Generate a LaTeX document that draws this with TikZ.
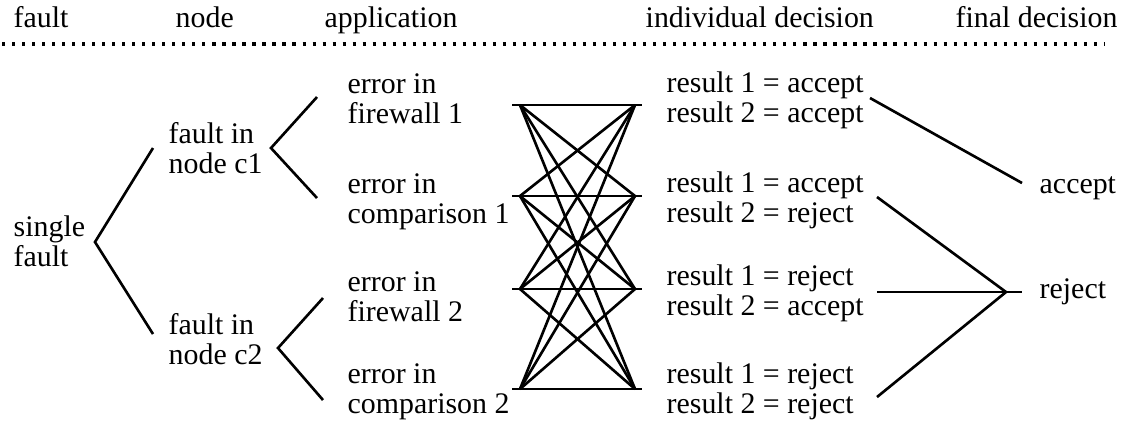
\documentclass[tikz,border=0pt]{standalone}
\usepackage{fontspec}
\setmainfont{Liberation Serif}
\usepackage{tikz}
\usetikzlibrary{positioning,calc}

\begin{document}
\begin{tikzpicture}[
  every node/.style={font=\fontsize{8.5}{8.54}\selectfont,align=left,inner sep=0pt,anchor=base west},
  link/.style={line width=0.75pt},
  rule/.style={line width=0.9pt,dash pattern=on 0.9pt off 1.95pt}
]
\useasboundingbox (0,0) rectangle (11.24,-4.23);

\node (hfault) at (0.13,-0.27) {fault};
\node (hnode) at (1.75,-0.27) {node};
\node (happ) at (3.24,-0.27) {application};
\node (hind) at (6.45,-0.27) {individual decision};
\node (hfin) at (9.55,-0.27) {final decision};
\coordinate (rl) at (0.02,-0.44);
\coordinate (rr) at (11.05,-0.44);
\draw[rule] (rl) -- (rr);

\node (single) at (0.13,-2.66) {single\\fault};
\node (c1) at (1.68,-1.73) {fault in\\node c1};
\node (c2) at (1.68,-3.64) {fault in\\node c2};
\node (fw1) at (3.47,-1.23) {error in\\firewall 1};
\node (cmp1) at (3.47,-2.23) {error in\\comparison 1};
\node (fw2) at (3.47,-3.21) {error in\\firewall 2};
\node (cmp2) at (3.47,-4.13) {error in\\comparison 2};
\node (d1) at (6.66,-1.22) {result 1 = accept\\result 2 = accept};
\node (d2) at (6.66,-2.22) {result 1 = accept\\result 2 = reject};
\node (d3) at (6.66,-3.15) {result 1 = reject\\result 2 = accept};
\node (d4) at (6.66,-4.13) {result 1 = reject\\result 2 = reject};
\node (acc) at (10.39,-1.93) {accept};
\node (rej) at (10.39,-2.98) {reject};

\coordinate (f0) at (0.95,-2.42);
\coordinate (f0a) at (1.53,-1.48);
\coordinate (f0b) at (1.53,-3.34);
\coordinate (f1) at (2.71,-1.48);
\coordinate (f1a) at (3.17,-0.97);
\coordinate (f1b) at (3.17,-1.98);
\coordinate (f2) at (2.78,-3.48);
\coordinate (f2a) at (3.23,-2.98);
\coordinate (f2b) at (3.23,-4.00);
\draw[link] (f0a) -- (f0) -- (f0b);
\draw[link] (f1a) -- (f1) -- (f1b);
\draw[link] (f2a) -- (f2) -- (f2b);

\foreach \i/\y in {1/-1.05,2/-1.96,3/-2.89,4/-3.89} {
  \coordinate (l\i) at (5.20,\y);
  \coordinate (r\i) at (6.35,\y);
}
\foreach \i in {1,...,4} {
  \draw[link] ([xshift=-0.08cm]l\i) -- ([xshift=0.07cm]r\i);
  \foreach \j in {1,...,4}
    \draw[link] (l\i) -- (r\j);
}

\coordinate (e1) at (8.70,-0.98);
\coordinate (e2) at (8.77,-1.97);
\coordinate (e3) at (8.77,-2.92);
\coordinate (e4) at (8.77,-3.97);
\coordinate (ae) at (10.22,-1.83);
\coordinate (rj) at (10.06,-2.92);
\coordinate (re) at (10.22,-2.92);
\draw[link] (e1) -- (ae);
\draw[link] (e2) -- (rj) -- (e4);
\draw[link] (e3) -- (re);
\end{tikzpicture}
\end{document}
